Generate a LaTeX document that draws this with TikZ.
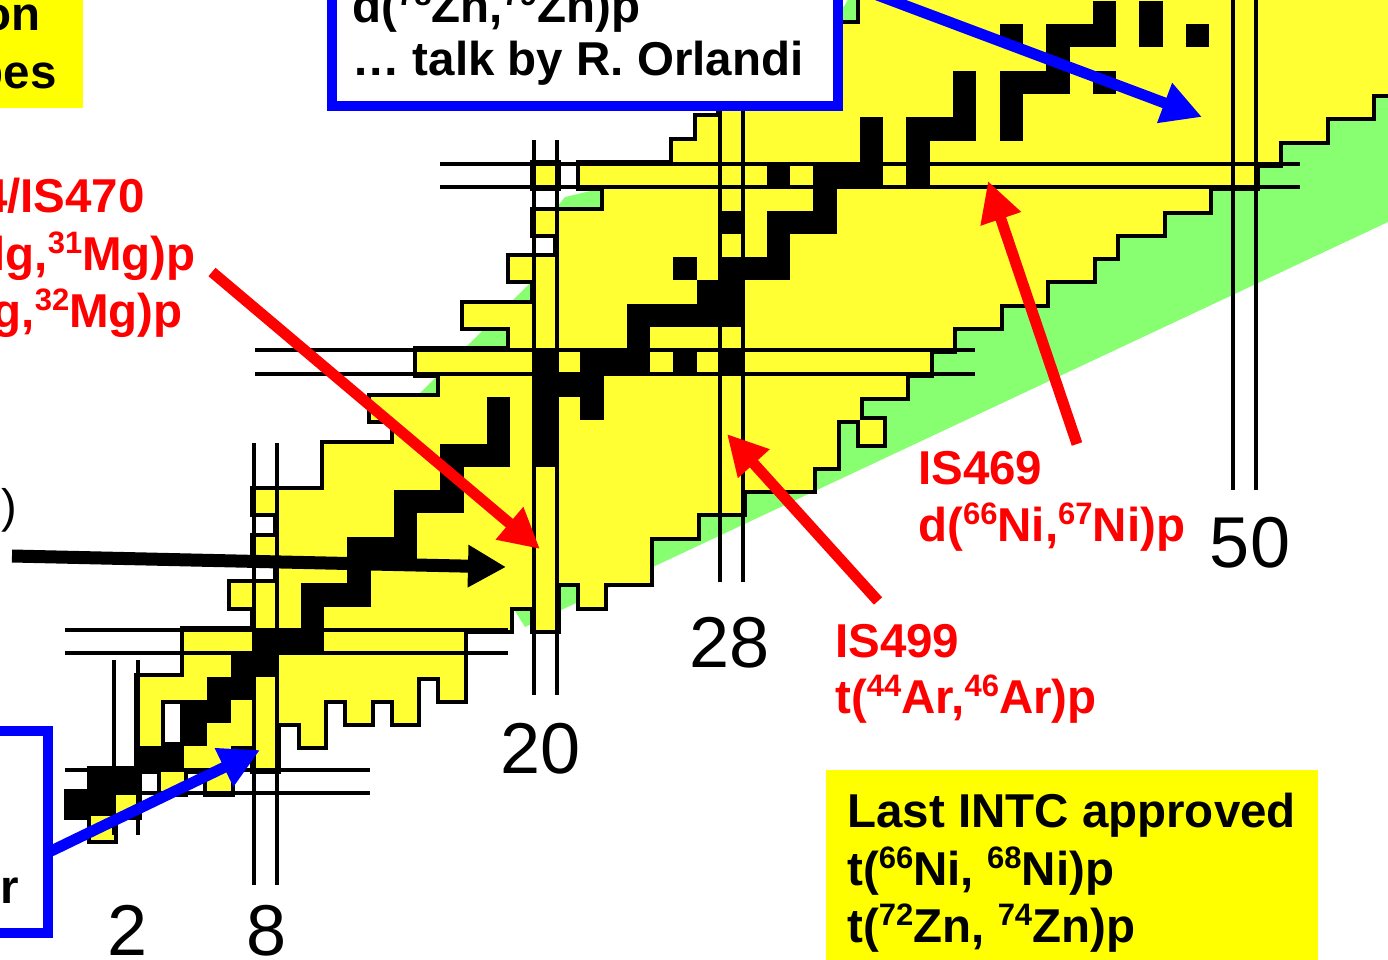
\documentclass[tikz,border=0pt]{standalone}
\usepackage{fontspec}
\setmainfont{Liberation Sans}
\usetikzlibrary{arrows.meta}
\definecolor{chy}{RGB}{255,255,51}
\definecolor{boxy}{RGB}{255,255,0}
\definecolor{grn}{RGB}{136,255,112}
\definecolor{rd}{RGB}{255,0,0}
\definecolor{bl}{RGB}{0,0,255}
\newcommand\spx[1]{\raisebox{0.35em}{\fontsize{31}{33}\selectfont #1}}
\newcommand\bfs{\fontsize{47.5}{56}\selectfont\bfseries}
\newcommand\nums{\fontsize{72}{80}\selectfont}
\newcommand\chartrows{%
 \cellrow{0}{1}{1}%
 \cellrow{1}{0}{2}%
 \cellrow{2}{1}{2}\cellrow{2}{4}{4}\cellrow{2}{6}{6}%
 \cellrow{3}{3}{6}\cellrow{3}{8}{8}%
 \cellrow{4}{3}{3}\cellrow{4}{5}{8}\cellrow{4}{10}{10}%
 \cellrow{5}{3}{3}\cellrow{5}{5}{10}\cellrow{5}{12}{12}\cellrow{5}{14}{14}%
 \cellrow{6}{3}{14}\cellrow{6}{16}{16}%
 \cellrow{7}{5}{16}%
 \cellrow{8}{5}{16}%
 \cellrow{9}{8}{18}\cellrow{9}{20}{20}%
 \cellrow{10}{7}{20}\cellrow{10}{22}{22}%
 \cellrow{11}{9}{24}%
 \cellrow{12}{8}{24}%
 \cellrow{13}{9}{26}%
 \cellrow{14}{8}{28}%
 \cellrow{15}{11}{31}%
 \cellrow{16}{11}{32}%
 \cellrow{17}{14}{32}\cellrow{17}{34}{34}%
 \cellrow{18}{13}{33}%
 \cellrow{19}{16}{35}%
 \cellrow{20}{15}{36}%
 \cellrow{21}{19}{37}%
 \cellrow{22}{17}{39}%
 \cellrow{23}{20}{41}%
 \cellrow{24}{19}{43}%
 \cellrow{25}{21}{44}%
 \cellrow{26}{20}{46}%
 \cellrow{27}{23}{48}%
 \cellrow{28}{20}{20}\cellrow{28}{22}{50}%
 \cellrow{29}{26}{51}%
 \cellrow{30}{27}{53}%
 \cellrow{31}{28}{55}%
 \cellrow{32}{29}{60}%
 \cellrow{33}{31}{60}%
 \cellrow{34}{31}{60}%
 \cellrow{35}{34}{60}%
 \cellrow{36}{34}{60}%
}
\newcommand\stablerows{%
 \blkrow{1}{0}{1}\blkrow{2}{1}{2}\blkrow{3}{3}{4}\blkrow{4}{5}{5}%
 \blkrow{5}{5}{6}\blkrow{6}{6}{7}\blkrow{7}{7}{8}\blkrow{8}{8}{10}%
 \blkrow{9}{10}{10}\blkrow{10}{10}{12}\blkrow{11}{12}{12}\blkrow{12}{12}{14}%
 \blkrow{13}{14}{14}\blkrow{14}{14}{16}\blkrow{15}{16}{16}%
 \blkrow{16}{16}{18}\blkrow{16}{20}{20}%
 \blkrow{17}{18}{18}\blkrow{17}{20}{20}%
 \blkrow{18}{18}{18}\blkrow{18}{20}{20}\blkrow{18}{22}{22}%
 \blkrow{19}{20}{22}%
 \blkrow{20}{20}{20}\blkrow{20}{22}{24}\blkrow{20}{26}{26}\blkrow{20}{28}{28}%
 \blkrow{21}{24}{24}%
 \blkrow{22}{24}{28}%
 \blkrow{23}{27}{28}%
 \blkrow{24}{26}{26}\blkrow{24}{28}{30}%
 \blkrow{25}{30}{30}%
 \blkrow{26}{28}{28}\blkrow{26}{30}{32}%
 \blkrow{27}{32}{32}%
 \blkrow{28}{30}{30}\blkrow{28}{32}{34}\blkrow{28}{36}{36}%
 \blkrow{29}{34}{34}\blkrow{29}{36}{36}%
 \blkrow{30}{34}{34}\blkrow{30}{36}{38}\blkrow{30}{40}{40}%
 \blkrow{31}{38}{38}\blkrow{31}{40}{40}%
 \blkrow{32}{38}{38}\blkrow{32}{40}{42}\blkrow{32}{44}{44}%
 \blkrow{33}{42}{42}%
 \blkrow{34}{40}{40}\blkrow{34}{42}{44}\blkrow{34}{46}{46}\blkrow{34}{48}{48}%
 \blkrow{35}{44}{44}\blkrow{35}{46}{46}%
}
\begin{document}
\begin{tikzpicture}[x=1pt,y=-1pt,
  magic/.style={line width=4pt, black},
  arr/.style={line width=11pt, -{Triangle[length=40pt,width=40pt]}},
  lbl/.style={inner sep=0pt, anchor=base west, font=\bfs},
  num/.style={inner sep=0pt, anchor=base, font=\nums}]
\useasboundingbox (0,0) rectangle (1388,959);
\clip (0,0) rectangle (1388,959);
% green band
\fill[grn] (525,627) -- (1388,222) -- (1388,-30) -- (865,-30) -- (845,5) -- (690,164)
  -- (603,188) -- (565,197) -- (557,207) -- (530,283) -- (420,393) -- (395,418) -- cycle;
% chart cells
\begin{scope}[shift={(67.6pt,-839.6pt)}, x=23.3pt, y=23.3pt]
  \fill[white] (20,25) rectangle (21,26);
  \fill[white] (20,27) rectangle (21,28);
  \def\cellrow#1#2#3{\draw[line width=8pt] (#2,#1) rectangle ({#3+1},{#1+1});}
  \chartrows
  \def\cellrow#1#2#3{\fill[chy] (#2,#1) rectangle ({#3+1},{#1+1});}
  \chartrows
  \def\blkrow#1#2#3{\fill[black] (#2,#1) rectangle ({#3+1},{#1+1});}
  \stablerows
\end{scope}
% magic number lines
\draw[magic] (65,769.7) -- (370,769.7) (65,793) -- (370,793);
\draw[magic] (65,630) -- (508,630) (65,653.3) -- (508,653.3);
\draw[magic] (255,350.3) -- (975,350.3) (255,373.6) -- (975,373.6);
\draw[magic] (440,163.9) -- (1300,163.9) (440,187.2) -- (1300,187.2);
\draw[magic] (114.2,660) -- (114.2,835) (137.5,660) -- (137.5,835);
\draw[magic] (254,443) -- (254,885) (277.3,443) -- (277.3,885);
\draw[magic] (533.6,140) -- (533.6,695) (556.9,140) -- (556.9,695);
\draw[magic] (720,110) -- (720,582) (743.3,110) -- (743.3,582);
\draw[magic] (1232.6,0) -- (1232.6,490) (1255.9,0) -- (1255.9,490);
% arrow end points
\coordinate (bA1) at (800,-34);  \coordinate (bA2) at (1202,117);
\coordinate (bB1) at (47,853);   \coordinate (bB2) at (260,750);
\coordinate (rA1) at (212,272);  \coordinate (rA2) at (540,549);
\coordinate (rB1) at (878,601);  \coordinate (rB2) at (727,434);
\coordinate (rC1) at (1077,444); \coordinate (rC2) at (988,181);
\coordinate (kA1) at (12,556);   \coordinate (kA2) at (506,567);
\draw[arr, bl] (bA1) -- (bA2);
\draw[arr, rd] (rA1) -- (rA2);
\draw[arr, rd] (rB1) -- (rB2);
\draw[arr, rd] (rC1) -- (rC2);
\draw[arr, black, line width=13pt, -{Triangle[length=38pt,width=40pt]}] (kA1) -- (kA2);
% boxes
\draw[bl, line width=10pt, fill=white] (332,-30) rectangle (838,105.5);
\fill[boxy] (-10,-10) rectangle (83,108);
\draw[bl, line width=10pt, fill=white] (-30,731) rectangle (48,933);
\draw[arr, bl] (bB1) -- (bB2);
\fill[boxy] (826,770) rectangle (1318,970);
% texts
\node[lbl] (t1) at (352,22) {d(\spx{78}Zn,\spx{79}Zn)p};
\node[lbl] (t2) at (352,75) {… talk by R. Orlandi};
\node[lbl, anchor=base east] (y1) at (41,30) {on};
\node[lbl, anchor=base east] (y2) at (57,88) {pes};
\node[lbl, text=rd, anchor=base east] (r1) at (145,212) {4/IS470};
\node[lbl, text=rd, anchor=base east] (r2) at (196,270) {lg,\spx{31}Mg)p};
\node[lbl, text=rd, anchor=base east] (r3) at (183,327) {g,\spx{32}Mg)p};
\node[inner sep=0pt, anchor=base east, font=\fontsize{47}{56}\selectfont] (p1) at (17,522) {)};
\node[lbl, anchor=base east] (rr) at (19,903) {r};
\node[lbl, text=rd] (i1) at (918,484) {IS469};
\node[lbl, text=rd] (i2) at (918,541) {d(\spx{66}Ni,\spx{67}Ni)p};
\node[lbl, text=rd] (i3) at (835,657) {IS499};
\node[lbl, text=rd] (i4) at (835,713) {t(\spx{44}Ar,\spx{46}Ar)p};
\node[lbl] (l1) at (847,827) {Last INTC approved};
\node[lbl] (l2) at (847,885) {t(\spx{66}Ni, \spx{68}Ni)p};
\node[lbl] (l3) at (847,942) {t(\spx{72}Zn, \spx{74}Zn)p};
\node[num] (n2) at (128,955) {2};
\node[num] (n8) at (267,955) {8};
\node[num] (n20) at (540.5,773) {20};
\node[num] (n28) at (729.5,667) {28};
\node[num] (n50) at (1250,567) {50};
\end{tikzpicture}
\end{document}
